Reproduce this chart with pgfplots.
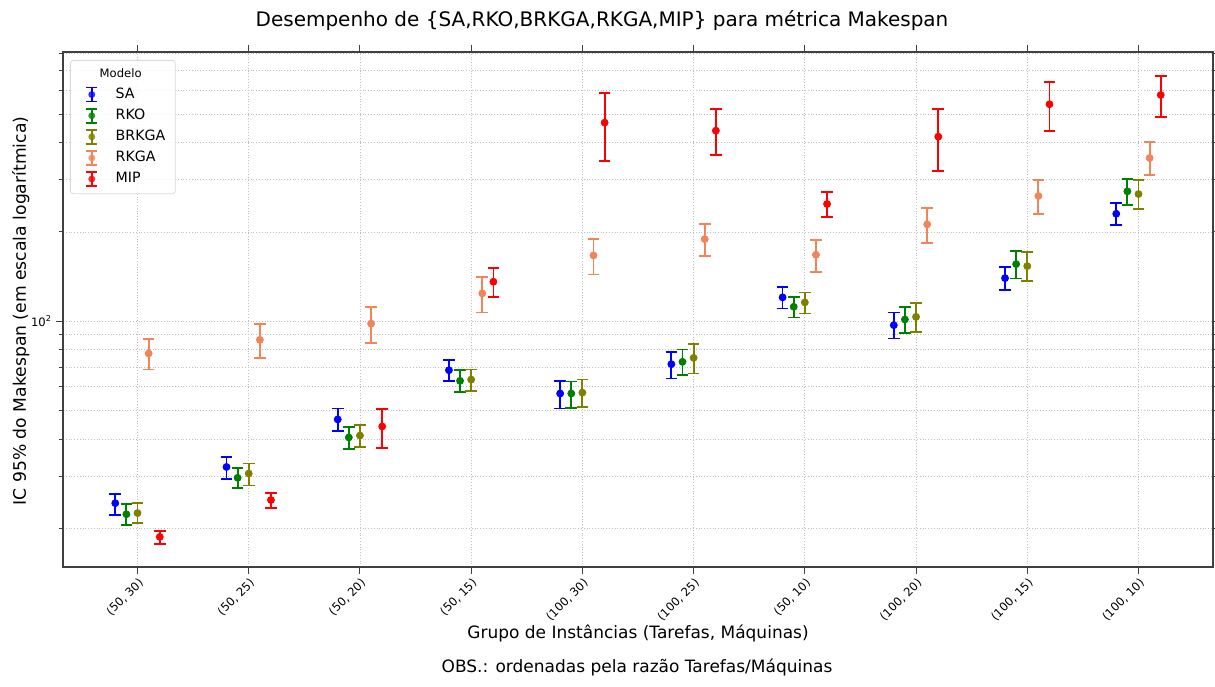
\documentclass[border=0pt]{standalone}
\usepackage{fontspec}
\setmainfont{DejaVu Sans}
\usepackage{pgfplots}
\usepackage{pgfplotstable}
\pgfplotsset{compat=1.18}

\definecolor{cSA}{RGB}{0,0,255}
\definecolor{cRKO}{RGB}{0,128,0}
\definecolor{cBRKGA}{RGB}{128,128,0}
\definecolor{cRKGA}{RGB}{242,132,90}
\definecolor{cMIP}{RGB}{255,0,0}

\pgfplotstableread{
x y lo hi
-0.2 24.3 22.2 26.1
0.8 32.2 29.4 34.9
1.8 46.6 42.5 50.7
2.8 68.3 62.7 73.9
3.8 57.0 50.7 62.9
4.8 71.6 64.0 78.8
5.8 120.3 110.4 130.0
6.8 96.9 87.4 107.0
7.8 139.7 127.3 152.5
8.8 230.4 211.5 249.8
}\tSA
\pgfplotstableread{
x y lo hi
-0.1 22.3 20.5 24.1
0.9 29.6 27.4 32.0
1.9 40.5 37.0 43.9
2.9 62.9 57.6 68.3
3.9 57.0 50.9 62.6
4.9 72.9 65.7 80.2
5.9 111.8 102.9 120.8
6.9 101.3 91.3 111.3
7.9 155.8 139.4 172.0
8.9 274.3 246.6 301.8
}\tRKO
\pgfplotstableread{
x y lo hi
0 22.5 20.8 24.3
1 30.6 27.9 33.1
2 41.1 37.6 44.6
3 63.5 58.2 68.7
4 57.4 51.3 63.5
5 75.2 66.6 83.6
6 115.7 106.2 125.0
7 103.4 92.0 114.8
8 153.4 136.5 170.7
9 268.6 238.5 299.5
}\tBRKGA
\pgfplotstableread{
x y lo hi
0.1 77.8 68.7 86.9
1.1 86.5 75.2 97.7
2.1 98.1 84.3 111.5
3.1 124.1 107.0 141.1
4.1 166.7 143.8 189.7
5.1 189.2 165.8 212.7
6.1 167.5 146.7 188.2
7.1 212.2 183.4 241.4
8.1 264.5 229.9 299.5
9.1 355.3 310.6 401.6
}\tRKGA
\pgfplotstableread{
x y lo hi
0.2 18.7 17.7 19.6
1.2 24.9 23.4 26.3
2.2 44.1 37.4 50.6
3.2 135.8 120.8 150.7
4.2 467.7 348.0 587.9
5.2 439.5 363.8 519.1
6.2 248.5 225.1 272.2
7.2 419.4 321.2 519.1
8.2 539.6 439.5 640.5
9.2 580.0 487.8 672.5
}\tMIP

\newcommand{\errleg}[1]{%
  \path[draw=none, fill=none] (0cm,0cm) (0.62cm,0cm);
  \draw[draw=#1, line width=0.9pt] (0.27cm,-3.5pt) -- (0.27cm,3.5pt)
     ([xshift=-2.75pt]0.27cm,-3.5pt) -- ([xshift=2.75pt]0.27cm,-3.5pt)
     ([xshift=-2.75pt]0.27cm,3.5pt) -- ([xshift=2.75pt]0.27cm,3.5pt);
  \fill[fill=#1, draw=none] (0.27cm,0cm) circle (1.75pt);}

\pgfplotsset{
  errser/.style={only marks, mark=*, color=#1, mark size=1.75pt,
    legend image code/.code={\errleg{#1}},
    error bars/.cd, y dir=both, y explicit, error mark=|,
    error bar style={line width=0.9pt, solid},
    error mark options={line width=0.9pt, mark size=2.9pt, solid}},
}

\begin{document}
\begin{tikzpicture}
\begin{axis}[
  scale only axis, width=575pt, height=257.5pt,
  at={(0,0)}, anchor=south west,
  ymode=log, ymin=14.8, ymax=810,
  xmin=-0.67, xmax=9.67,
  xtick={0,...,9},
  xticklabels={{(50, 30)},{(50, 25)},{(50, 20)},{(50, 15)},{(100, 30)},{(100, 25)},{(50, 10)},{(100, 20)},{(100, 15)},{(100, 10)}},
  ytick={100}, yticklabels={10\textsuperscript{2}},
  minor ytick={20,30,40,50,60,70,80,90,200,300,400,500,600,700,800},
  ymajorgrids, yminorgrids, xmajorgrids,
  grid style={densely dotted, black!25, line width=0.4pt},
  minor grid style={densely dotted, black!25, line width=0.4pt},
  tick align=outside, major tick length=3.5pt, minor tick length=2pt,
  every tick/.style={black!75, line width=0.5pt},
  axis line style={black!75, line width=0.6pt},
  xticklabel style={rotate=45, anchor=north east, font=\fontsize{5.8}{6.5}\selectfont, inner sep=1pt},
  yticklabel style={font=\fontsize{5.8}{6.5}\selectfont, xshift=1.5pt},
  legend cell align=left,
  legend style={at={(0,1)}, anchor=north west, xshift=3.5pt, yshift=-4pt,
    font=\fontsize{7.1}{8}\selectfont, draw=black!15, rounded corners=1.5pt,
    fill=white, fill opacity=0.8, text opacity=1, row sep=-0.2pt},
]
\addlegendimage{empty legend}
\addlegendentry{\fontsize{5.8}{7}\selectfont\hspace*{-8pt}Modelo}
\addplot[errser=cSA] table[x=x, y=y, y error plus expr=\thisrow{hi}-\thisrow{y}, y error minus expr=\thisrow{y}-\thisrow{lo}] {\tSA};
\addlegendentry{SA}
\addplot[errser=cRKO] table[x=x, y=y, y error plus expr=\thisrow{hi}-\thisrow{y}, y error minus expr=\thisrow{y}-\thisrow{lo}] {\tRKO};
\addlegendentry{RKO}
\addplot[errser=cBRKGA] table[x=x, y=y, y error plus expr=\thisrow{hi}-\thisrow{y}, y error minus expr=\thisrow{y}-\thisrow{lo}] {\tBRKGA};
\addlegendentry{BRKGA}
\addplot[errser=cRKGA] table[x=x, y=y, y error plus expr=\thisrow{hi}-\thisrow{y}, y error minus expr=\thisrow{y}-\thisrow{lo}] {\tRKGA};
\addlegendentry{RKGA}
\addplot[errser=cMIP] table[x=x, y=y, y error plus expr=\thisrow{hi}-\thisrow{y}, y error minus expr=\thisrow{y}-\thisrow{lo}] {\tMIP};
\addlegendentry{MIP}
\end{axis}
\node[anchor=base, font=\fontsize{10}{12}\selectfont] at (269.5pt,270pt) {Desempenho de \{SA,RKO,BRKGA,RKGA,MIP\} para métrica Makespan};
\node[anchor=base, font=\fontsize{8.5}{10}\selectfont] at (287.5pt,-35.5pt) {Grupo de Instâncias (Tarefas, Máquinas)};
\node[anchor=base, font=\fontsize{8.5}{10}\selectfont] at (287pt,-52.5pt) {OBS.: ordenadas pela razão Tarefas/Máquinas};
\node[rotate=90, anchor=base, font=\fontsize{8.6}{10}\selectfont] at (-18.5pt,128pt) {IC 95\% do Makespan (em escala logarítmica)};
\pgfresetboundingbox
\path[use as bounding box] (-31.5pt,-59.5pt) rectangle (576pt,283.5pt);
\end{tikzpicture}
\end{document}
